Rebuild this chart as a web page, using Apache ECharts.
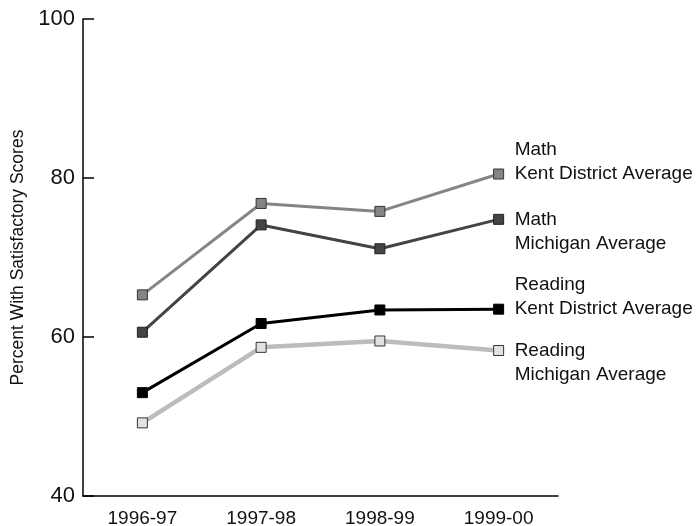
<!DOCTYPE html>
<html>
<head>
<meta charset="utf-8">
<script src="https://cdn.jsdelivr.net/npm/echarts@6/dist/echarts.min.js"></script>
<style>
    html, body { margin: 0; padding: 0; background: #fff; }
    #chart { width: 696px; height: 526px; }
</style>
</head>
<body>
<div id="chart"></div>
<script>
    const years = ['1996-97', '1997-98', '1998-99', '1999-00']
    const mathKent = [65.3, 76.8, 75.8, 80.5]
    const mathMichigan = [60.6, 74.1, 71.1, 74.8]
    const readingKent = [53.0, 61.7, 63.4, 63.5]
    const readingMichigan = [49.2, 58.7, 59.5, 58.3]

    const font = 'Liberation Sans, Arial, sans-serif'

    function makeSeries(name, data, lineColor, fill, border, width, offsetY, text) {
        return {
            name: name,
            type: 'line',
            data: data,
            symbol: 'rect',
            symbolSize: 10,
            z: 3,
            lineStyle: { color: lineColor, width: width },
            itemStyle: { color: fill, borderColor: border, borderWidth: 1 },
            emphasis: { disabled: true },
            endLabel: {
                show: true,
                formatter: text,
                fontFamily: font,
                fontSize: 19,
                lineHeight: 24,
                color: '#111',
                distance: 16,
                offset: [0, offsetY]
            }
        }
    }

    let chart = echarts.init(document.getElementById('chart'))
    let option = {
        animation: false,
        grid: { left: 83, right: 138, top: 19, bottom: 30, outerBoundsMode: 'none' },
        xAxis: {
            type: 'category',
            data: years,
            boundaryGap: true,
            axisLine: { lineStyle: { color: '#000', width: 1.5 } },
            axisTick: { inside: true, alignWithLabel: true, length: 11, lineStyle: { color: '#000', width: 1.5 } },
            axisLabel: { color: '#111', fontFamily: font, fontSize: 19, margin: 13 }
        },
        yAxis: {
            type: 'value',
            min: 40,
            max: 100,
            interval: 20,
            name: 'Percent With Satisfactory Scores',
            nameLocation: 'middle',
            nameGap: 52,
            nameTextStyle: { color: '#111', fontFamily: font, fontSize: 17.5 },
            splitLine: { show: false },
            axisLine: { show: true, lineStyle: { color: '#000', width: 1.5 } },
            axisTick: { show: true, inside: true, length: 11, lineStyle: { color: '#000', width: 1.5 } },
            axisLabel: { color: '#111', fontFamily: font, fontSize: 22, margin: 8 }
        },
        series: [
            makeSeries('Math Kent District Average', mathKent, '#858585', '#858585', '#333', 3, -12, 'Math\nKent District Average'),
            makeSeries('Math Michigan Average', mathMichigan, '#444', '#444', '#222', 3, 12, 'Math\nMichigan Average'),
            makeSeries('Reading Kent District Average', readingKent, '#000', '#000', '#000', 3, -12, 'Reading\nKent District Average'),
            makeSeries('Reading Michigan Average', readingMichigan, '#bcbcbc', '#e2e2e2', '#333', 4.5, 12, 'Reading\nMichigan Average')
        ]
    }
    chart.setOption(option)
</script>
</body>
</html>
